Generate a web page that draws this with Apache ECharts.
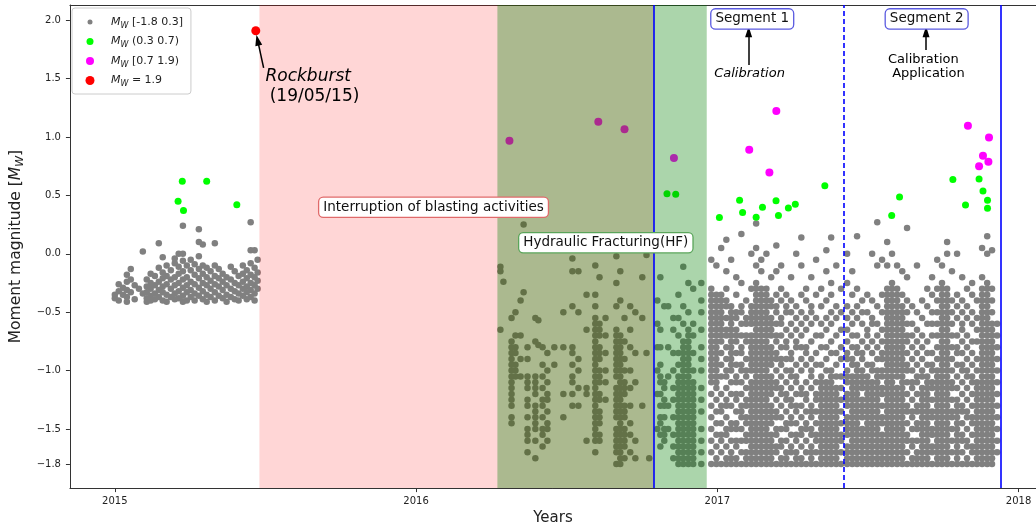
<!DOCTYPE html>
<html><head><meta charset="utf-8">
<script src="https://cdn.jsdelivr.net/npm/echarts@6/dist/echarts.min.js"></script>
<style>html,body{margin:0;padding:0;background:#fff}#c{width:1036px;height:531px}</style>
</head><body><div id="c"></div>
<script>
// ---------- DATA (decimal years, moment magnitude) ----------
const xTickYears = [2015, 2016, 2017, 2018];
const yTickValues = [-1.8, -1.5, -1.0, -0.5, 0.0, 0.5, 1.0, 1.5, 2.0];
const seriesNames = ['Mw [-1.8 0.3]', 'Mw (0.3 0.7)', 'Mw [0.7 1.9)', 'Mw = 1.9'];

// gray events, listed per date column: [year, "magnitudes"]
const gray2015 = [
 [2015.000,"-0.35 -0.38"],[2015.013,"-0.26 -0.32 -0.4"],[2015.027,"-0.29 -0.35"],
 [2015.040,"-0.18 -0.24 -0.31 -0.37 -0.41"],[2015.053,"-0.13 -0.22 -0.33"],[2015.066,"-0.27 -0.39"],
 [2015.080,"-0.3"],[2015.093,"0.02 -0.34"],[2015.106,"-0.22 -0.28 -0.33 -0.38 -0.41"],
 [2015.119,"-0.17 -0.25 -0.3 -0.36 -0.4"],[2015.133,"-0.19 -0.27 -0.34 -0.39"],
 [2015.146,"0.09 -0.12 -0.24 -0.31 -0.37"],[2015.159,"-0.03 -0.16 -0.21 -0.28 -0.33 -0.4"],
 [2015.172,"-0.1 -0.19 -0.26 -0.35 -0.41"],[2015.186,"-0.14 -0.22 -0.3 -0.37"],
 [2015.199,"-0.04 -0.08 -0.2 -0.27 -0.34 -0.39"],[2015.212,"0 -0.11 -0.17 -0.25 -0.32 -0.38"],
 [2015.226,"0.24 0 -0.06 -0.15 -0.22 -0.29 -0.36 -0.41"],[2015.239,"-0.1 -0.2 -0.27 -0.33 -0.4"],
 [2015.252,"-0.05 -0.14 -0.24 -0.31 -0.37"],[2015.265,"-0.09 -0.18 -0.26 -0.34 -0.4"],
 [2015.279,"0.1 0.21 -0.02 -0.13 -0.21 -0.29 -0.36"],[2015.292,"0.08 -0.1 -0.17 -0.25 -0.32 -0.39"],
 [2015.305,"-0.12 -0.2 -0.27 -0.35 -0.41"],[2015.318,"-0.15 -0.23 -0.3 -0.37"],
 [2015.332,"0.09 -0.1 -0.19 -0.26 -0.33 -0.4"],[2015.345,"-0.13 -0.21 -0.28 -0.36"],
 [2015.358,"-0.17 -0.24 -0.31 -0.38"],[2015.371,"-0.2 -0.27 -0.35 -0.41"],
 [2015.385,"-0.11 -0.22 -0.3 -0.37"],[2015.398,"-0.15 -0.25 -0.32 -0.39"],
 [2015.411,"-0.19 -0.27 -0.34 -0.4"],[2015.425,"-0.1 -0.17 -0.24 -0.3 -0.36"],
 [2015.438,"-0.14 -0.21 -0.28 -0.33 -0.39"],[2015.451,"0.27 0.03 -0.08 -0.18 -0.25 -0.31 -0.37"],
 [2015.464,"0.03 -0.12 -0.2 -0.27 -0.34 -0.4"],[2015.474,"-0.05 -0.16 -0.23 -0.3"]
];
const grayHF = [
 [2016.280,"-0.11 -0.15 -0.65"],[2016.290,"-0.24"],
 [2016.317,"-0.55 -0.75 -0.8 -0.85 -0.9 -0.95 -1 -1.05 -1.1 -1.15 -1.2 -1.25 -1.3 -1.4 -1.45"],
 [2016.330,"-0.5 -0.7 -0.8 -0.85 -0.95 -1 -1.05"],[2016.347,"-0.4 -0.7 -0.9 -1.05"],[2016.357,"0.25 -0.33"],
 [2016.370,"-0.8 -0.9 -1.05 -1.1 -1.15 -1.25 -1.3 -1.4 -1.5 -1.55 -1.6 -1.7"],
 [2016.396,"-0.55 -0.75 -1.05 -1.1 -1.15 -1.2 -1.3 -1.35 -1.4 -1.45 -1.5 -1.6 -1.75"],
 [2016.406,"-0.57 -0.78"],
 [2016.420,"-0.8 -0.95 -1.05 -1.15 -1.25 -1.3 -1.4 -1.5 -1.55 -1.65"],
 [2016.436,"-0.85 -1 -1.1 -1.2 -1.25 -1.35 -1.45 -1.5 -1.6"],
 [2016.459,"-0.8 -0.95"],[2016.489,"-0.5 -0.8 -1.2 -1.4"],
 [2016.519,"-0.04 -0.15 -0.45 -0.8 -0.85 -0.95 -1.05 -1.1 -1.2 -1.3"],
 [2016.539,"-0.15 -0.5 -0.9 -1 -1.15 -1.3"],[2016.566,"-0.35 -0.65 -1.15 -1.2 -1.6"],
 [2016.595,"-0.1 -0.35 -0.45 -0.55 -0.6 -0.65 -0.7 -0.75 -0.8 -0.85 -0.9 -0.95 -1 -1.05 -1.1 -1.15 -1.2 -1.25 -1.3 -1.35 -1.4 -1.45 -1.5 -1.55 -1.6 -1.7"],
 [2016.609,"-0.2 -0.6 -0.65 -0.7 -0.8 -0.85 -0.9 -1 -1.05 -1.1 -1.2 -1.25 -1.35 -1.4 -1.45 -1.55 -1.6"],
 [2016.629,"-0.55 -0.7 -0.85 -1 -1.1 -1.25"],
 [2016.665,"-0.02 -0.25 -0.45 -0.65 -0.7 -0.75 -0.8 -0.85 -0.9 -0.95 -1 -1.05 -1.15 -1.2 -1.25 -1.3 -1.35 -1.4 -1.5 -1.55 -1.6 -1.65 -1.7 -1.8"],
 [2016.678,"-0.15 -0.4 -0.7 -0.75 -0.8 -0.85 -0.9 -0.95 -1 -1.05 -1.1 -1.15 -1.2 -1.25 -1.3 -1.35 -1.4 -1.45 -1.5 -1.55 -1.6 -1.65 -1.7 -1.75 -1.8"],
 [2016.692,"-0.55 -0.75 -0.9 -1 -1.1 -1.15 -1.2 -1.3 -1.35 -1.4 -1.5 -1.55 -1.6 -1.65 -1.75"],
 [2016.711,"-0.45 -0.65 -0.8 -1 -1.15 -1.3 -1.45 -1.55 -1.7"],[2016.728,"-0.5 -0.85 -1.1 -1.6 -1.75"],
 [2016.751,"-0.2 -0.55 -1.3"],[2016.765,"-0.01 -0.85"],[2016.774,"-1.75"],
 [2016.801,"-0.4 -0.6 -0.8 -1 -1.2 -1.5"],
 [2016.811,"-0.2 -0.65 -0.8 -0.95 -1.05 -1.1 -1.2 -1.3 -1.4 -1.45 -1.55 -1.65"],
 [2016.824,"-0.45 -1.1 -1.15 -1.25 -1.3 -1.4 -1.5 -1.55 -1.6"],
 [2016.837,"-0.45 -0.8 -1.05 -1.3 -1.5"],
 [2016.854,"-0.55 -0.65 -0.85 -1 -1.15 -1.25 -1.4 -1.55 -1.65 -1.75"],
 [2016.871,"-0.35 -0.55 -0.7 -0.85 -0.95 -1.05 -1.1 -1.15 -1.2 -1.25 -1.3 -1.35 -1.4 -1.45 -1.5 -1.55 -1.6 -1.65 -1.7 -1.75 -1.8"],
 [2016.887,"-0.11 -0.45 -0.6 -0.75 -0.8 -0.85 -0.9 -0.95 -1 -1.05 -1.1 -1.15 -1.2 -1.25 -1.3 -1.35 -1.4 -1.45 -1.5 -1.55 -1.6 -1.65 -1.7 -1.75 -1.8"],
 [2016.904,"-0.25 -0.5 -0.65 -0.7 -0.75 -0.8 -0.85 -0.9 -0.95 -1 -1.05 -1.1 -1.15 -1.2 -1.25 -1.3 -1.35 -1.4 -1.45 -1.5 -1.55 -1.6 -1.65 -1.7 -1.75 -1.8"],
 [2016.920,"-0.3 -0.6 -0.7 -0.85 -1 -1.1 -1.15 -1.2 -1.25 -1.3 -1.35 -1.4 -1.45 -1.5 -1.55 -1.6 -1.65 -1.7 -1.75 -1.8"],
 [2016.947,"-0.25 -0.4 -0.5 -0.65 -0.8 -0.9 -1 -1.15 -1.25 -1.35 -1.5 -1.6 -1.7 -1.8"]
];
const graySeg1 = [
 [2016.980,"-0.05 -0.3 -0.35 -0.4 -0.45 -0.5 -0.55 -0.6 -0.65 -0.7 -0.75 -0.8 -0.85 -0.9 -0.95 -1 -1.05 -1.1 -1.2 -1.3 -1.4 -1.5 -1.6 -1.7 -1.8"],
 [2016.997,"-0.1 -0.35 -0.4 -0.45 -0.5 -0.55 -0.6 -0.65 -0.7 -0.75 -0.8 -0.85 -0.9 -0.95 -1 -1.05 -1.1 -1.15 -1.25 -1.35 -1.45 -1.55 -1.65 -1.75 -1.8"],
 [2017.013,"0.05 -0.35 -0.4 -0.45 -0.5 -0.55 -0.6 -0.65 -0.7 -0.75 -0.85 -0.95 -1.05 -1.2 -1.3 -1.35 -1.45 -1.55 -1.6 -1.7 -1.8"],
 [2017.030,"0.12 -0.15 -0.3 -0.4 -0.45 -0.55 -0.65 -0.7 -0.8 -0.9 -1 -1.05 -1.15 -1.25 -1.3 -1.4 -1.5 -1.55 -1.65 -1.75 -1.8"],
 [2017.046,"-0.05 -0.45 -0.5 -0.55 -0.6 -0.65 -0.7 -0.75 -0.8 -0.85 -0.9 -0.95 -1 -1.1 -1.2 -1.3 -1.45 -1.5 -1.6 -1.7 -1.75 -1.8"],
 [2017.063,"-0.2 -0.35 -0.5 -0.55 -0.65 -0.7 -0.75 -0.85 -0.95 -1.05 -1.1 -1.2 -1.25 -1.35 -1.45 -1.5 -1.6 -1.65 -1.75 -1.8"],
 [2017.080,"0.17 -0.25 -0.45 -0.5 -0.6 -0.7 -0.8 -0.85 -0.95 -1 -1.1 -1.2 -1.3 -1.35 -1.4 -1.5 -1.6 -1.7 -1.8"],
 [2017.096,"-0.4 -0.55 -0.6 -0.7 -0.75 -0.9 -1 -1.05 -1.15 -1.25 -1.3 -1.4 -1.45 -1.55 -1.6 -1.7 -1.75 -1.8"],
 [2017.113,"0 -0.3 -0.45 -0.5 -0.55 -0.6 -0.7 -0.75 -0.8 -0.85 -0.9 -0.95 -1 -1.1 -1.15 -1.2 -1.25 -1.3 -1.35 -1.4 -1.45 -1.5 -1.55 -1.6 -1.65 -1.7 -1.75 -1.8"],
 [2017.129,"0.26 0.05 -0.1 -0.25 -0.3 -0.35 -0.4 -0.45 -0.5 -0.55 -0.6 -0.65 -0.7 -0.75 -0.8 -0.85 -0.9 -0.95 -1 -1.05 -1.1 -1.15 -1.2 -1.25 -1.3 -1.35 -1.4 -1.45 -1.5 -1.55 -1.6 -1.65 -1.7 -1.75 -1.8"],
 [2017.146,"-0.05 -0.15 -0.3 -0.35 -0.4 -0.45 -0.5 -0.55 -0.6 -0.65 -0.7 -0.75 -0.8 -0.85 -0.9 -0.95 -1 -1.05 -1.1 -1.15 -1.2 -1.25 -1.3 -1.35 -1.4 -1.45 -1.5 -1.55 -1.6 -1.65 -1.7 -1.75 -1.8"],
 [2017.163,"0 -0.3 -0.35 -0.4 -0.45 -0.5 -0.55 -0.6 -0.65 -0.7 -0.75 -0.8 -0.85 -0.9 -0.95 -1 -1.05 -1.1 -1.15 -1.2 -1.25 -1.3 -1.35 -1.4 -1.45 -1.5 -1.55 -1.6 -1.65 -1.7 -1.75 -1.8"],
 [2017.179,"-0.2 -0.4 -0.45 -0.55 -0.6 -0.65 -0.7 -0.8 -0.85 -0.9 -0.95 -1.05 -1.1 -1.15 -1.2 -1.3 -1.35 -1.4 -1.45 -1.55 -1.6 -1.65 -1.7 -1.75 -1.8"],
 [2017.196,"0.07 -0.15 -0.35 -0.45 -0.5 -0.6 -0.7 -0.75 -0.85 -0.9 -1 -1.1 -1.15 -1.25 -1.35 -1.4 -1.5 -1.55 -1.65 -1.7 -1.8"],
 [2017.212,"-0.1 -0.3 -0.4 -0.55 -0.6 -0.7 -0.8 -0.9 -0.95 -1.05 -1.15 -1.2 -1.3 -1.4 -1.5 -1.6 -1.65 -1.75 -1.8"],
 [2017.229,"-0.35 -0.45 -0.5 -0.65 -0.75 -0.8 -0.9 -1 -1.1 -1.2 -1.25 -1.35 -1.45 -1.5 -1.6 -1.7 -1.75 -1.8"],
 [2017.245,"-0.2 -0.4 -0.5 -0.6 -0.7 -0.85 -0.9 -1 -1.05 -1.15 -1.25 -1.3 -1.4 -1.45 -1.55 -1.65 -1.7 -1.8"],
 [2017.262,"0 -0.45 -0.55 -0.65 -0.75 -0.8 -0.95 -1.05 -1.1 -1.2 -1.3 -1.35 -1.45 -1.55 -1.6 -1.7 -1.75 -1.8"],
 [2017.279,"0.14 -0.1 -0.35 -0.5 -0.6 -0.7 -0.8 -0.9 -1 -1.15 -1.2 -1.3 -1.4 -1.5 -1.55 -1.65 -1.75 -1.8"],
 [2017.295,"-0.3 -0.4 -0.55 -0.65 -0.8 -0.85 -0.95 -1.1 -1.2 -1.25 -1.35 -1.45 -1.5 -1.6 -1.7 -1.8"],
 [2017.312,"-0.2 -0.45 -0.5 -0.6 -0.75 -0.9 -1 -1.05 -1.15 -1.3 -1.35 -1.4 -1.5 -1.55 -1.65 -1.7 -1.75 -1.8"],
 [2017.328,"-0.05 -0.35 -0.55 -0.7 -0.85 -0.95 -1.1 -1.2 -1.25 -1.35 -1.45 -1.55 -1.6 -1.7 -1.8"],
 [2017.345,"-0.3 -0.45 -0.6 -0.7 -0.8 -0.95 -1.05 -1.1 -1.15 -1.2 -1.25 -1.3 -1.35 -1.4 -1.45 -1.5 -1.55 -1.6 -1.65 -1.7 -1.75 -1.8"],
 [2017.362,"0.03 -0.15 -0.4 -0.55 -0.65 -0.8 -0.9 -1 -1.1 -1.15 -1.2 -1.25 -1.3 -1.35 -1.4 -1.45 -1.5 -1.55 -1.6 -1.65 -1.7 -1.75 -1.8"],
 [2017.378,"0.14 -0.25 -0.35 -0.5 -0.6 -0.75 -0.85 -1 -1.05 -1.1 -1.15 -1.2 -1.25 -1.3 -1.35 -1.4 -1.45 -1.5 -1.55 -1.6 -1.65 -1.7 -1.75 -1.8"],
 [2017.395,"-0.1 -0.45 -0.55 -0.7 -0.85 -0.95 -1.05 -1.15 -1.2 -1.25 -1.3 -1.35 -1.4 -1.45 -1.5 -1.55 -1.6 -1.65 -1.7 -1.75 -1.8"],
 [2017.411,"-0.3 -0.5 -0.65 -0.8 -0.9 -1.05 -1.15 -1.25 -1.35 -1.45 -1.55 -1.6 -1.7 -1.8"]
];
const graySeg2 = [
 [2017.431,"0 -0.25 -0.45 -0.55 -0.65 -0.75 -0.85 -0.9 -1 -1.05 -1.1 -1.2 -1.25 -1.3 -1.4 -1.45 -1.5 -1.55 -1.65 -1.7 -1.75 -1.8"],
 [2017.448,"-0.15 -0.35 -0.5 -0.6 -0.7 -0.8 -0.9 -0.95 -1.05 -1.1 -1.15 -1.2 -1.25 -1.3 -1.35 -1.4 -1.45 -1.5 -1.55 -1.6 -1.65 -1.7 -1.75 -1.8"],
 [2017.464,"0.15 -0.3 -0.45 -0.55 -0.7 -0.8 -0.85 -0.95 -1 -1.05 -1.1 -1.15 -1.2 -1.25 -1.3 -1.35 -1.4 -1.45 -1.5 -1.55 -1.6 -1.65 -1.7 -1.75 -1.8"],
 [2017.481,"-0.4 -0.5 -0.6 -0.75 -0.85 -0.9 -1 -1.05 -1.1 -1.15 -1.25 -1.3 -1.35 -1.4 -1.5 -1.55 -1.6 -1.65 -1.7 -1.75 -1.8"],
 [2017.498,"-0.35 -0.5 -0.65 -0.7 -0.8 -0.95 -1.05 -1.1 -1.15 -1.2 -1.25 -1.3 -1.35 -1.4 -1.45 -1.5 -1.55 -1.6 -1.65 -1.7 -1.75 -1.8"],
 [2017.514,"0 -0.4 -0.55 -0.6 -0.75 -0.85 -0.95 -1 -1.1 -1.15 -1.2 -1.25 -1.3 -1.35 -1.4 -1.45 -1.5 -1.55 -1.6 -1.65 -1.7 -1.75 -1.8"],
 [2017.531,"0.27 -0.1 -0.45 -0.6 -0.7 -0.8 -0.9 -1 -1.05 -1.1 -1.15 -1.2 -1.25 -1.3 -1.35 -1.4 -1.45 -1.5 -1.55 -1.6 -1.65 -1.7 -1.75 -1.8"],
 [2017.547,"-0.05 -0.35 -0.5 -0.65 -0.75 -0.85 -0.9 -1 -1.05 -1.15 -1.2 -1.3 -1.4 -1.45 -1.55 -1.6 -1.65 -1.7 -1.75 -1.8"],
 [2017.564,"0.1 -0.1 -0.3 -0.35 -0.4 -0.45 -0.5 -0.55 -0.6 -0.65 -0.7 -0.75 -0.8 -0.85 -0.9 -0.95 -1 -1.05 -1.1 -1.15 -1.2 -1.25 -1.3 -1.35 -1.4 -1.45 -1.5 -1.55 -1.6 -1.65 -1.7 -1.75 -1.8"],
 [2017.580,"0 -0.25 -0.3 -0.35 -0.4 -0.45 -0.5 -0.55 -0.6 -0.65 -0.7 -0.75 -0.8 -0.85 -0.9 -0.95 -1 -1.05 -1.1 -1.15 -1.2 -1.25 -1.3 -1.35 -1.4 -1.45 -1.5 -1.55 -1.6 -1.65 -1.7 -1.75 -1.8"],
 [2017.597,"-0.1 -0.3 -0.35 -0.4 -0.45 -0.5 -0.55 -0.6 -0.65 -0.7 -0.75 -0.8 -0.85 -0.9 -0.95 -1 -1.05 -1.15 -1.2 -1.25 -1.3 -1.35 -1.4 -1.45 -1.5 -1.55 -1.6 -1.65 -1.7 -1.75 -1.8"],
 [2017.614,"-0.15 -0.35 -0.45 -0.5 -0.55 -0.6 -0.65 -0.7 -0.75 -0.8 -0.85 -0.9 -0.95 -1 -1.05 -1.1 -1.15 -1.2 -1.25 -1.3 -1.35 -1.4 -1.45 -1.5 -1.55 -1.6 -1.65 -1.7 -1.75 -1.8"],
 [2017.630,"0.22 -0.2 -0.4 -0.5 -0.6 -0.7 -0.75 -0.85 -0.95 -1 -1.1 -1.2 -1.3 -1.35 -1.45 -1.55 -1.6 -1.7 -1.8"],
 [2017.647,"-0.45 -0.6 -0.7 -0.8 -0.9 -1 -1.1 -1.15 -1.25 -1.35 -1.4 -1.5 -1.6 -1.65 -1.75 -1.8"],
 [2017.663,"-0.1 -0.5 -0.65 -0.75 -0.85 -0.95 -1.05 -1.1 -1.2 -1.3 -1.35 -1.45 -1.5 -1.6 -1.7 -1.75 -1.8"],
 [2017.680,"-0.4 -0.55 -0.7 -0.8 -0.9 -1 -1.05 -1.15 -1.2 -1.25 -1.3 -1.35 -1.4 -1.45 -1.5 -1.55 -1.6 -1.65 -1.7 -1.75 -1.8"],
 [2017.697,"-0.3 -0.45 -0.6 -0.75 -0.85 -0.95 -1.05 -1.1 -1.15 -1.2 -1.25 -1.3 -1.35 -1.4 -1.45 -1.5 -1.55 -1.6 -1.65 -1.7 -1.75 -1.8"],
 [2017.713,"-0.2 -0.35 -0.5 -0.6 -0.7 -0.85 -0.95 -1 -1.1 -1.15 -1.25 -1.35 -1.4 -1.5 -1.55 -1.65 -1.7 -1.8"],
 [2017.730,"-0.05 -0.3 -0.4 -0.5 -0.6 -0.7 -0.8 -0.9 -1 -1.05 -1.1 -1.15 -1.2 -1.25 -1.3 -1.35 -1.4 -1.45 -1.5 -1.55 -1.6 -1.65 -1.7 -1.75 -1.8"],
 [2017.746,"-0.1 -0.25 -0.3 -0.35 -0.4 -0.45 -0.5 -0.55 -0.6 -0.65 -0.7 -0.75 -0.8 -0.85 -0.9 -0.95 -1 -1.05 -1.1 -1.15 -1.2 -1.25 -1.3 -1.35 -1.4 -1.45 -1.5 -1.55 -1.6 -1.65 -1.7 -1.75 -1.8"],
 [2017.763,"0.1 0 -0.3 -0.35 -0.4 -0.45 -0.5 -0.55 -0.6 -0.65 -0.7 -0.75 -0.8 -0.85 -0.9 -0.95 -1 -1.05 -1.1 -1.15 -1.2 -1.25 -1.3 -1.35 -1.4 -1.45 -1.5 -1.55 -1.6 -1.65 -1.7 -1.75 -1.8"],
 [2017.779,"-0.15 -0.4 -0.5 -0.6 -0.7 -0.8 -0.9 -1 -1.1 -1.15 -1.25 -1.35 -1.4 -1.5 -1.6 -1.7 -1.8"],
 [2017.796,"0 -0.35 -0.45 -0.55 -0.7 -0.8 -0.85 -0.95 -1.05 -1.15 -1.25 -1.3 -1.35 -1.4 -1.45 -1.5 -1.55 -1.6 -1.65 -1.7 -1.75 -1.8"],
 [2017.813,"-0.2 -0.4 -0.5 -0.6 -0.65 -0.75 -0.85 -0.95 -1 -1.1 -1.2 -1.3 -1.35 -1.45 -1.55 -1.6 -1.7 -1.8"],
 [2017.829,"-0.3 -0.45 -0.55 -0.7 -0.8 -0.9 -1 -1.05 -1.15 -1.25 -1.35 -1.4 -1.5 -1.6 -1.65 -1.75 -1.8"],
 [2017.846,"-0.25 -0.35 -0.5 -0.6 -0.75 -0.85 -0.95 -1.05 -1.1 -1.2 -1.3 -1.4 -1.45 -1.55 -1.65 -1.7 -1.8"],
 [2017.862,"-0.4 -0.55 -0.65 -0.75 -0.9 -1 -1.1 -1.15 -1.2 -1.25 -1.3 -1.35 -1.4 -1.45 -1.5 -1.55 -1.6 -1.65 -1.7 -1.75 -1.8"],
 [2017.879,"0.05 -0.2 -0.3 -0.35 -0.4 -0.45 -0.5 -0.55 -0.6 -0.65 -0.7 -0.75 -0.8 -0.85 -0.9 -0.95 -1 -1.05 -1.1 -1.15 -1.2 -1.25 -1.3 -1.35 -1.4 -1.45 -1.5 -1.55 -1.6 -1.65 -1.7 -1.75 -1.8"],
 [2017.896,"0.15 0 -0.25 -0.3 -0.35 -0.4 -0.45 -0.5 -0.55 -0.6 -0.65 -0.7 -0.75 -0.8 -0.85 -0.9 -0.95 -1 -1.05 -1.1 -1.15 -1.2 -1.25 -1.3 -1.35 -1.4 -1.45 -1.5 -1.55 -1.6 -1.65 -1.7 -1.75 -1.8"],
 [2017.912,"0.03 -0.3 -0.4 -0.5 -0.6 -0.65 -0.7 -0.75 -0.8 -0.85 -0.9 -0.95 -1 -1.05 -1.1 -1.15 -1.2 -1.25 -1.3 -1.35 -1.4 -1.45 -1.5 -1.55 -1.6 -1.65 -1.7 -1.75 -1.8"],
 [2017.929,"-0.6 -0.7 -0.8 -0.9 -1 -1.1 -1.2 -1.3 -1.4 -1.5 -1.6 -1.7"]
];
const greenPoints = [
 [2015.21,0.45],[2015.224,0.62],[2015.228,0.37],[2015.305,0.62],[2015.405,0.42],
 [2016.833,0.515],[2016.862,0.51],
 [2017.007,0.31],[2017.074,0.458],[2017.084,0.353],[2017.129,0.313],[2017.15,0.398],
 [2017.195,0.455],[2017.203,0.327],[2017.236,0.392],[2017.259,0.424],[2017.357,0.583],
 [2017.579,0.327],[2017.605,0.486],[2017.782,0.637],[2017.824,0.418],[2017.869,0.64],
 [2017.882,0.537],[2017.897,0.458],[2017.897,0.39]
];
const magentaPoints = [
 [2016.31,0.967],[2016.605,1.13],[2016.692,1.066],[2016.856,0.82],
 [2017.106,0.89],[2017.173,0.697],[2017.196,1.222],
 [2017.832,1.097],[2017.869,0.75],[2017.882,0.839],[2017.9,0.788],[2017.902,0.995]
];
const rockburstPoints = [[2015.468, 1.91]];

// periods (years)
const blastingStop = [2015.48, 2016.79];
const hfPeriod = [2016.27, 2016.965];
const segmentLines = [2016.79, 2017.42, 2017.94];

// ---------- build ----------
function expand(cols) {
  const out = [];
  cols.forEach(([x, ys]) => ys.trim().split(/\s+/).forEach(y => out.push([x, Number(y)])));
  return out;
}
const grayData = [].concat(expand(gray2015), expand(grayHF), expand(graySeg1), expand(graySeg2));

const FONT = 'DejaVu Sans';
const X_MIN = 2014.851, X_MAX = 2018.058;
const richMw = (fs) => ({
  i: { fontStyle: 'italic', fontSize: fs, fontFamily: FONT, color: '#222', lineHeight: fs + 4 },
  s: { fontStyle: 'italic', fontSize: Math.round(fs * 0.72), fontFamily: FONT, color: '#222', verticalAlign: 'bottom', lineHeight: Math.round(fs * 0.72) },
  t: { fontSize: fs, fontFamily: FONT, color: '#222', lineHeight: fs + 4 }
});
function mwRich(name) { return '{i|M}{s|W}{t|' + name.slice(2) + '}'; }

const legendIcons = [
  'path://M0,0M26,12M7.5,6a2.5,2.5 0 1,0 5,0a2.5,2.5 0 1,0 -5,0',
  'path://M0,0M26,12M6.5,6a3.5,3.5 0 1,0 7,0a3.5,3.5 0 1,0 -7,0',
  'path://M0,0M26,12M6,6a4,4 0 1,0 8,0a4,4 0 1,0 -8,0',
  'path://M0,0M26,12M5.5,6a4.5,4.5 0 1,0 9,0a4.5,4.5 0 1,0 -9,0'
];

function boxLabel(text, x, y, border) {
  return { coord: [x, y], symbol: 'circle', symbolSize: 1, itemStyle: { color: 'rgba(0,0,0,0)' },
    label: { show: true, position: 'inside', formatter: text, fontFamily: FONT, fontSize: 13.5, color: '#111',
      backgroundColor: '#fff', borderColor: border, borderWidth: 1.3, borderRadius: 4, padding: [3, 4, 2, 4] } };
}
function plainLabel(text, x, y, size, italic) {
  return { coord: [x, y], symbol: 'circle', symbolSize: 1, itemStyle: { color: 'rgba(0,0,0,0)' },
    label: { show: true, position: 'inside', formatter: text, fontFamily: FONT, fontSize: size,
      fontStyle: italic ? 'italic' : 'normal', color: '#000' } };
}
function arrow(x1, y1, x2, y2) { return [{ coord: [x1, y1] }, { coord: [x2, y2] }]; }

const chart = echarts.init(document.getElementById('c'), null, { renderer: 'canvas' });
chart.setOption({
  animation: false,
  backgroundColor: '#fff',
  grid: { left: 69, right: 0, top: 5, bottom: 41 },
  legend: {
    data: seriesNames.map((n, k) => ({ name: n, icon: legendIcons[k] })),
    orient: 'vertical', left: 72, top: 8, itemWidth: 26, itemHeight: 12, itemGap: 6,
    padding: [8, 8, 6, 8], backgroundColor: 'rgba(255,255,255,0.85)', borderColor: '#ccc', borderWidth: 1, borderRadius: 3,
    selectedMode: false,
    formatter: mwRich,
    textStyle: { fontFamily: FONT, fontSize: 11, color: '#222', rich: richMw(11) }
  },
  xAxis: [{
    type: 'value', min: X_MIN, max: X_MAX, position: 'bottom',
    name: 'Years', nameLocation: 'middle', nameGap: 22,
    nameTextStyle: { fontFamily: FONT, fontSize: 15, color: '#222' },
    axisLine: { show: true, onZero: false, lineStyle: { color: '#333' } },
    axisTick: { customValues: xTickYears, length: 4, lineStyle: { color: '#333' } },
    axisLabel: { customValues: xTickYears, formatter: v => String(v), fontFamily: FONT, fontSize: 10, color: '#222', margin: 8 },
    splitLine: { show: false }
  }, {
    type: 'value', min: X_MIN, max: X_MAX, position: 'top', offset: 0,
    axisLine: { show: true, onZero: false, lineStyle: { color: '#333' } },
    axisTick: { show: false }, axisLabel: { show: false }, splitLine: { show: false }
  }],
  yAxis: {
    type: 'value', min: -2.006, max: 2.13,
    name: 'Moment magnitude [{i|M}{s|W}{t|]}', nameLocation: 'middle', nameGap: 37,
    nameTextStyle: { fontFamily: FONT, fontSize: 15.5, color: '#222', rich: richMw(15.5) },
    axisLine: { show: true, onZero: false, lineStyle: { color: '#333' } },
    axisTick: { show: true, customValues: yTickValues, length: 4, lineStyle: { color: '#333' } },
    axisLabel: { customValues: yTickValues, formatter: v => (v < 0 ? '\u2212' : '') + Math.abs(v).toFixed(1),
      fontFamily: FONT, fontSize: 10, color: '#222', margin: 9 },
    splitLine: { show: false }
  },
  series: [
    { name: seriesNames[0], type: 'scatter', data: grayData, symbolSize: 6.5, itemStyle: { color: '#808080', opacity: 1 }, z: 2, silent: true },
    { name: seriesNames[1], type: 'scatter', data: greenPoints, symbolSize: 7, itemStyle: { color: '#00ff00', opacity: 1 }, z: 3, silent: true },
    { name: seriesNames[2], type: 'scatter', data: magentaPoints, symbolSize: 8, itemStyle: { color: '#ff00ff', opacity: 1 }, z: 3, silent: true },
    { name: seriesNames[3], type: 'scatter', data: rockburstPoints, symbolSize: 9, itemStyle: { color: '#ff0000', opacity: 1 }, z: 3, silent: true },
    { name: 'periods', type: 'scatter', data: [], z: 10, silent: true,
      markArea: { silent: true, z: 10, data: [
        [{ xAxis: blastingStop[0], itemStyle: { color: 'rgba(255,0,0,0.16)' } }, { xAxis: blastingStop[1] }],
        [{ xAxis: hfPeriod[0], itemStyle: { color: 'rgba(0,128,0,0.33)' } }, { xAxis: hfPeriod[1] }]
      ] } },
    { name: 'segments', type: 'scatter', data: [], z: 12, silent: true,
      markLine: { silent: true, z: 12, symbol: ['none', 'none'], label: { show: false },
        lineStyle: { color: '#0000ff', width: 1.6, type: 'solid' },
        data: [
          { xAxis: segmentLines[0] },
          { xAxis: segmentLines[1], lineStyle: { type: [5, 3], color: '#0000ff', width: 1.6 } },
          { xAxis: segmentLines[2] }
        ] } },
    { name: 'arrows', type: 'scatter', data: [], z: 13, silent: true,
      markLine: { silent: true, z: 13, symbol: ['none', 'triangle'], symbolSize: [7, 11], label: { show: false },
        lineStyle: { color: '#000', width: 1.5, type: 'solid' },
        data: [ arrow(2015.494, 1.592, 2015.474, 1.83), arrow(2017.104, 1.617, 2017.104, 1.90), arrow(2017.693, 1.745, 2017.693, 1.90) ] } },
    { name: 'notes', type: 'scatter', data: [], z: 14, silent: true,
      markPoint: { silent: true, z: 14, data: [
        boxLabel('Interruption of blasting activities', 2016.058, 0.398, '#e06a6a'),
        boxLabel('Hydraulic Fracturing(HF)', 2016.630, 0.095, '#5aa55a'),
        boxLabel('Segment 1', 2017.116, 2.011, '#5a5ae0'),
        boxLabel('Segment 2', 2017.695, 2.011, '#5a5ae0'),
        plainLabel('Rockburst', 2015.642, 1.515, 17, true),
        plainLabel('(19/05/15)', 2015.663, 1.347, 17, false),
        plainLabel('Calibration', 2017.107, 1.54, 13, true),
        plainLabel('Calibration', 2017.684, 1.666, 13, false),
        plainLabel('Application', 2017.701, 1.54, 13, false)
      ] } }
  ]
});
</script></body></html>
